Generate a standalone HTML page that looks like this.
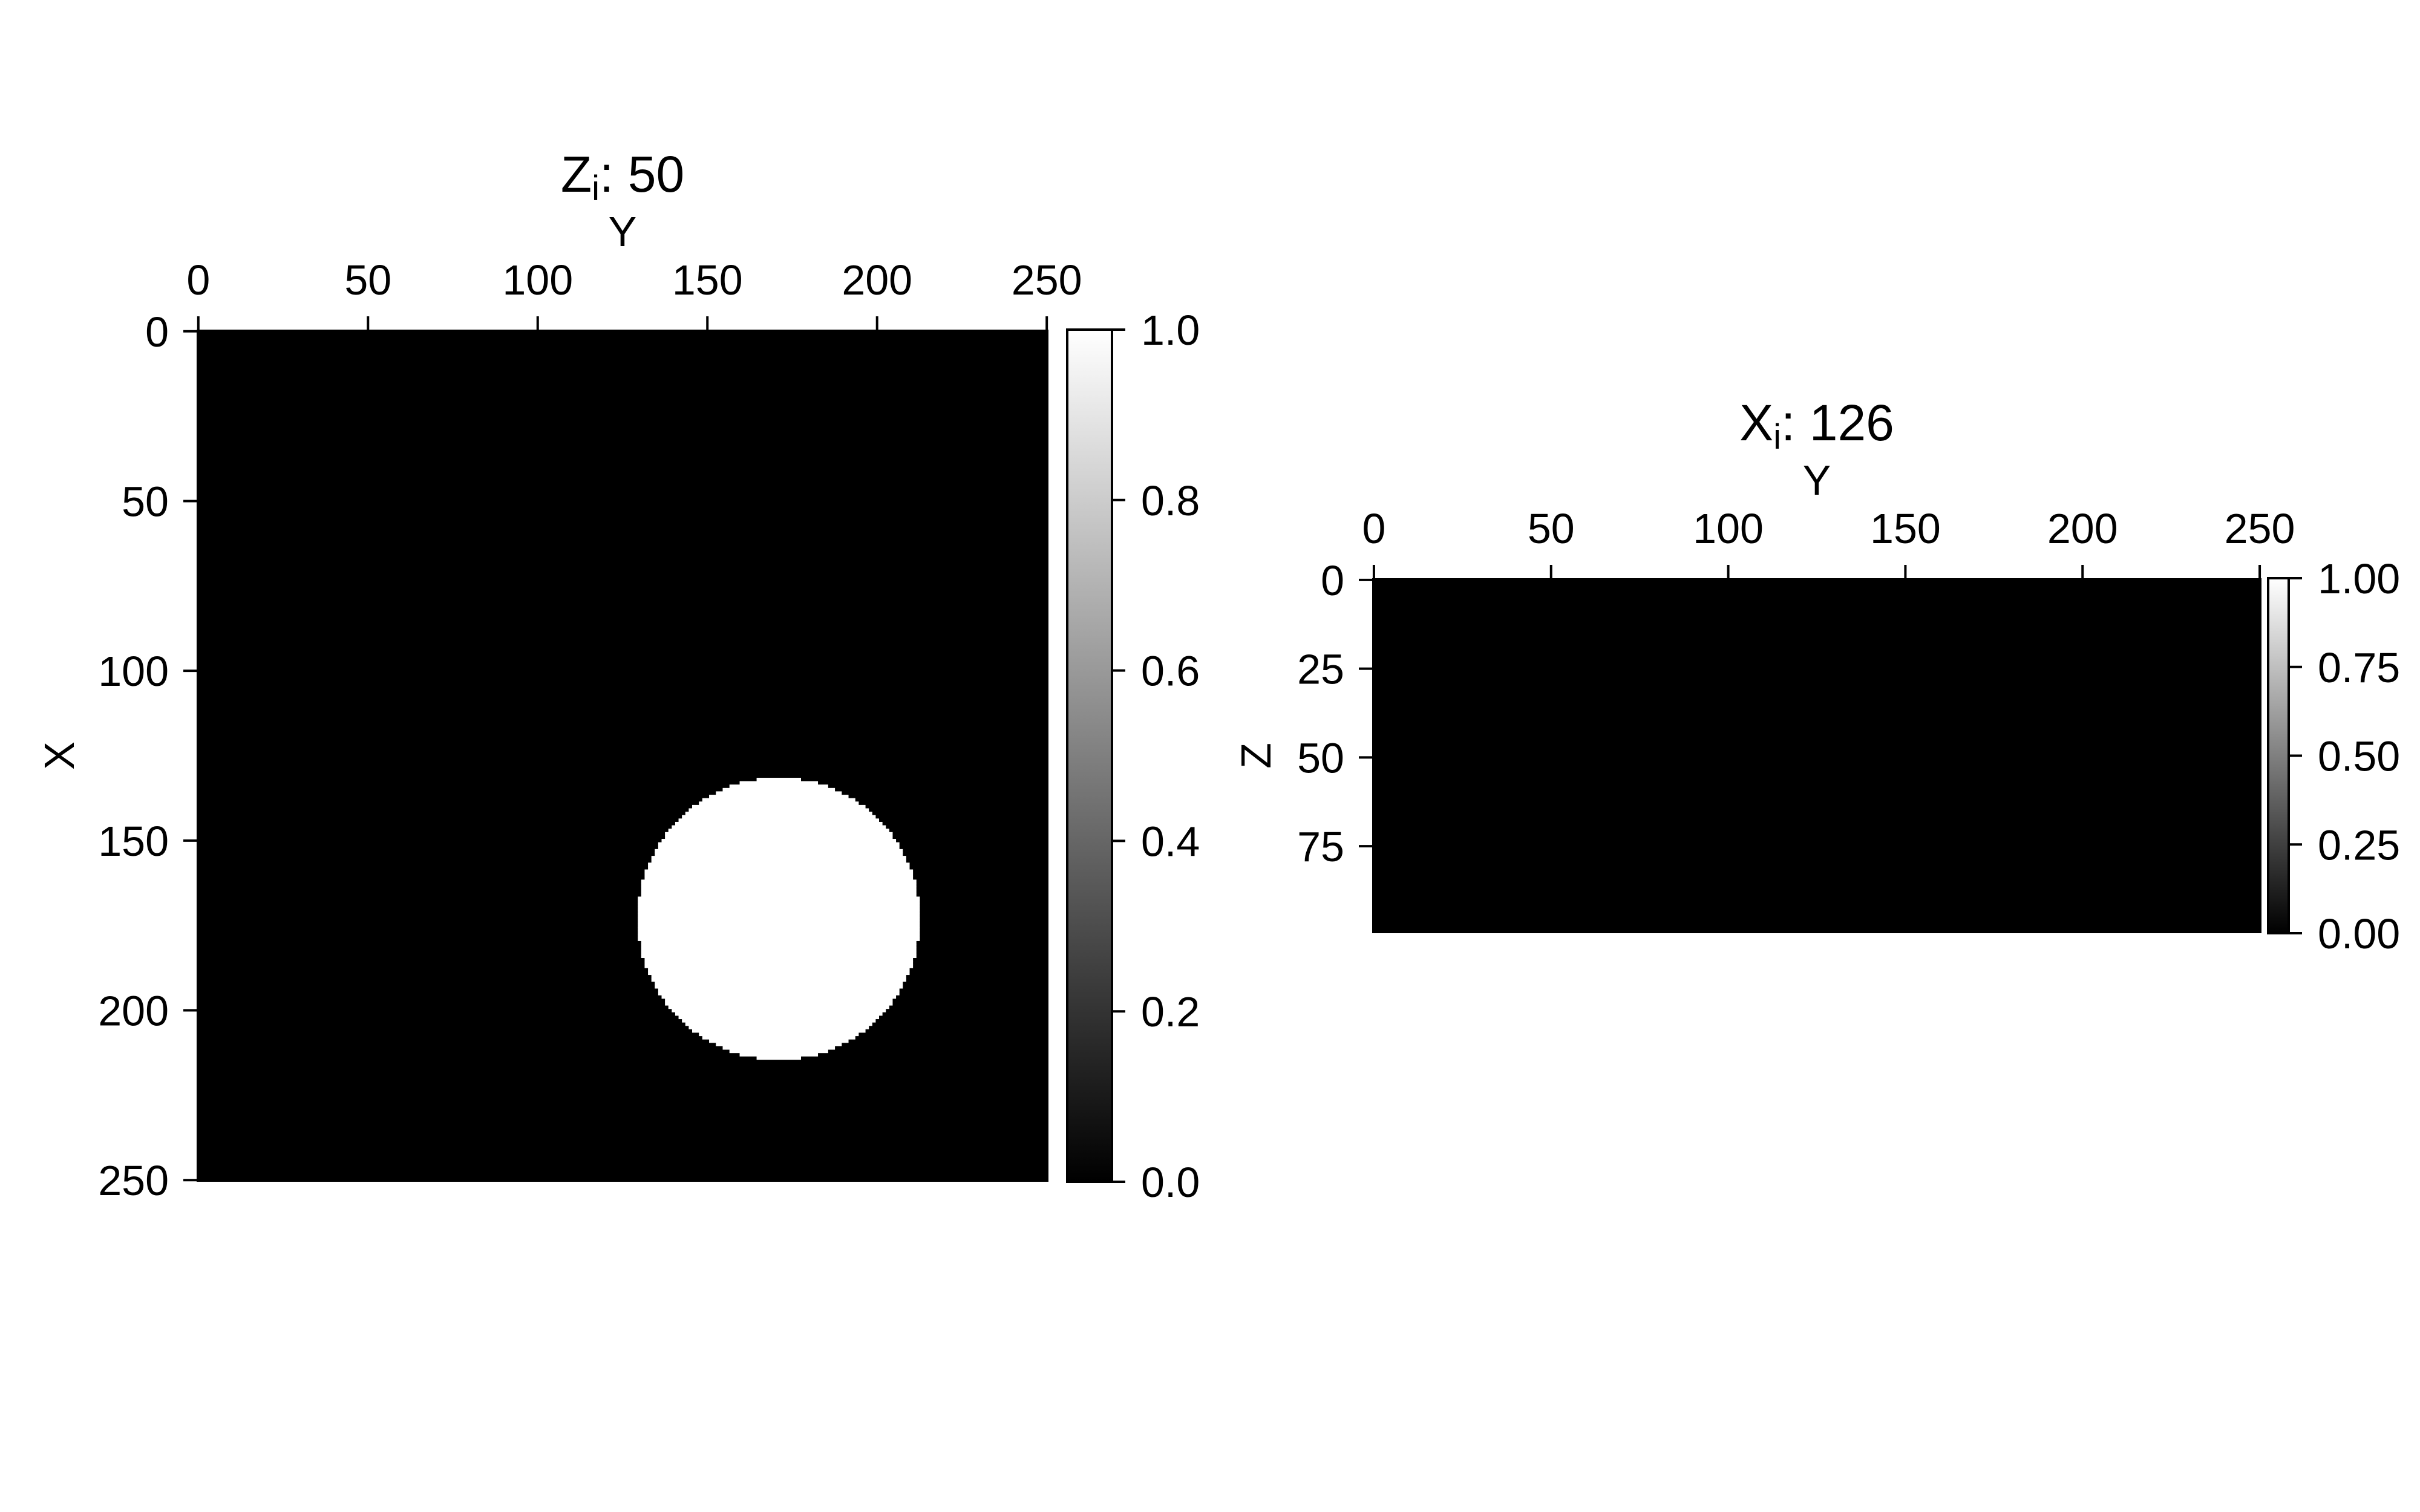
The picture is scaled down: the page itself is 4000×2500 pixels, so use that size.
<!DOCTYPE html>
<html><head><meta charset="utf-8"><style>
html,body{margin:0;padding:0;background:#fff;}
svg{display:block;font-family:"Liberation Sans",Arial,sans-serif;}
</style></head><body>
<svg id="fig" width="4000" height="2500" viewBox="0 0 4000 2500" xmlns="http://www.w3.org/2000/svg">
<defs><linearGradient id="gray" x1="0" y1="1" x2="0" y2="0"><stop offset="0" stop-color="#000"/><stop offset="1" stop-color="#fff"/></linearGradient></defs>
</svg>
<script>
// ---- data ----
const leftXTicks = [0, 50, 100, 150, 200, 250];
const leftYTicks = [0, 50, 100, 150, 200, 250];
const rightXTicks = [0, 50, 100, 150, 200, 250];
const rightYTicks = [0, 25, 50, 75];
const leftCbTicks = ["0.0", "0.2", "0.4", "0.6", "0.8", "1.0"];
const rightCbTicks = ["0.00", "0.25", "0.50", "0.75", "1.00"];
const leftGrid = [251, 251];      // rows (X), cols (Y)
const rightGrid = [100, 251];     // rows (Z), cols (Y)
const circleCenter = [173, 171];  // X, Y
const circleRadius = [41.5];

const NS = "http://www.w3.org/2000/svg";
const svg = document.getElementById('fig');
function el(tag, attrs, text) {
  const e = document.createElementNS(NS, tag);
  for (const k in attrs) e.setAttribute(k, attrs[k]);
  if (text !== undefined) e.textContent = text;
  svg.appendChild(e);
  return e;
}

function panel(p) {
  const sx = v => p.x0 + (v + 0.5) * p.w / p.cols;
  const sy = v => p.y0 + (v + 0.5) * p.h / p.rows;
  const bg = el('rect', {x: p.x0, y: p.y0, width: p.w, height: p.h, fill: '#000'});
  
  
  if (p.circle) {
    const [cx, cy] = p.circle; const r = circleRadius[0];
    const cw = p.w / p.cols, ch = p.h / p.rows;
    for (let i = 0; i < p.rows; i++) {
      const d = r * r - (i - cx) * (i - cx);
      if (d < 0) continue;
      const half = Math.sqrt(d);
      const j0 = Math.ceil(cy - half), j1 = Math.floor(cy + half);
      const c = el('rect', {x: p.x0 + j0 * cw, y: p.y0 + i * ch, width: (j1 - j0 + 1) * cw + 0.5, height: ch + 0.5, fill: '#fff'});
      
      
    }
  }
  p.xt.forEach(v => {
    const x = sx(v);
    const t = el('line', {x1: x, y1: p.y0 - 22, x2: x, y2: p.y0, stroke: '#000', 'stroke-width': 4});
    
    
    const l = el('text', {x: x, y: p.y0 - 58, 'font-size': 70, 'text-anchor': 'middle'}, v);
    
    
  });
  p.yt.forEach(v => {
    const y = sy(v);
    const t = el('line', {x1: p.x0 - 22, y1: y, x2: p.x0, y2: y, stroke: '#000', 'stroke-width': 4});
    
    
    const l = el('text', {x: p.x0 - 46, y: y + 25, 'font-size': 70, 'text-anchor': 'end'}, v);
    
    
  });
  const cxm = p.x0 + p.w / 2;
  const xl = el('text', {x: cxm, y: p.y0 - 138, 'font-size': 70, 'text-anchor': 'middle'}, 'Y');
  
  
  const tt = el('text', {x: cxm, y: p.y0 - 228, 'font-size': 84, 'text-anchor': 'middle'});
  
  
  tt.innerHTML = p.title[0] + '<tspan font-size="58" dy="14">i</tspan><tspan dy="-14">: ' + p.title[1] + '</tspan>';
  const ymid = p.y0 + p.h / 2;
  const yl = el('text', {x: p.ylx, y: ymid, 'font-size': 70, 'text-anchor': 'middle', transform: 'rotate(-90 ' + p.ylx + ' ' + ymid + ')'}, p.ylabel);
  
  
  // colorbar
  const cb = el('rect', {x: p.cbx, y: p.y0, width: p.cbw, height: p.h, fill: 'url(#gray)', stroke: '#000', 'stroke-width': 4});
  
  
  const n = p.cbt.length;
  p.cbt.forEach((s, k) => {
    const y = p.y0 + p.h - k * p.h / (n - 1);
    const t = el('line', {x1: p.cbx + p.cbw, y1: y, x2: p.cbx + p.cbw + 22, y2: y, stroke: '#000', 'stroke-width': 4});
    
    
    const l = el('text', {x: p.cbx + p.cbw + 48, y: y + 25, 'font-size': 70}, s);
    
    
  });
}

panel({name: 'z-slice', x0: 325, y0: 545, w: 1408, h: 1409, rows: leftGrid[0], cols: leftGrid[1],
  xt: leftXTicks, yt: leftYTicks, title: ['Z', '50'], ylabel: 'X', ylx: 122,
  cbx: 1764, cbw: 74, cbt: leftCbTicks, circle: circleCenter});
panel({name: 'x-slice', x0: 2268, y0: 956, w: 1470, h: 587, rows: rightGrid[0], cols: rightGrid[1],
  xt: rightXTicks, yt: rightYTicks, title: ['X', '126'], ylabel: 'Z', ylx: 2100,
  cbx: 3749, cbw: 34, cbt: rightCbTicks});
</script>
</body></html>
